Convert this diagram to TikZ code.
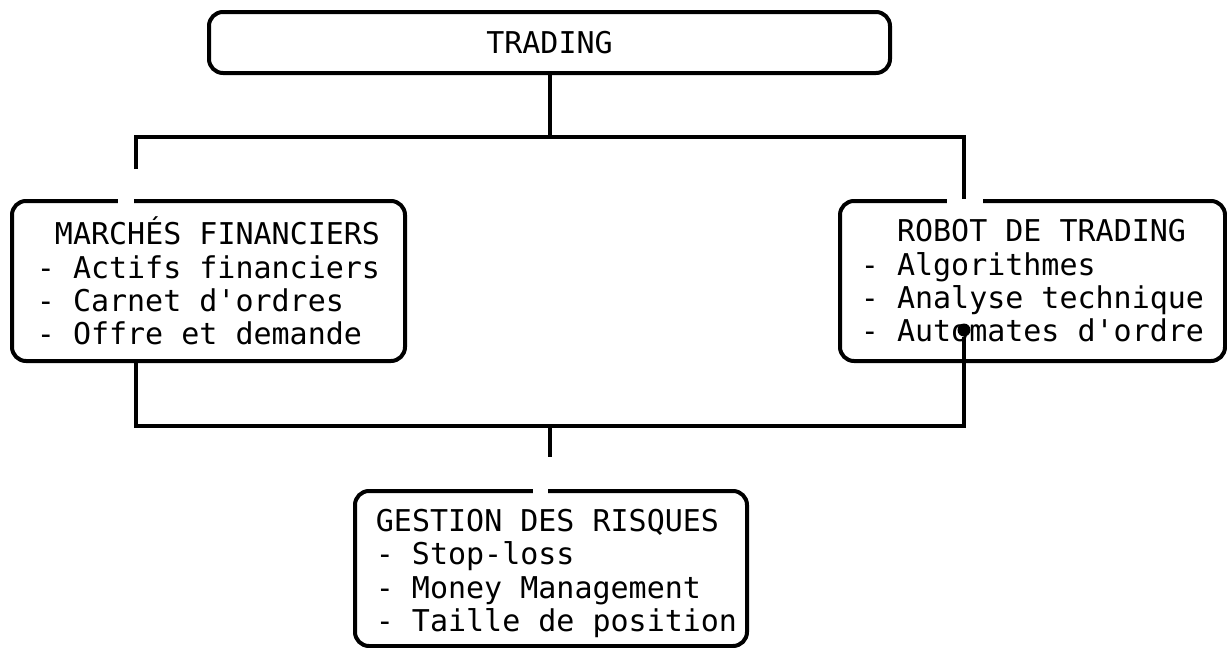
\documentclass[tikz,border=0pt]{standalone}
\usepackage{fontspec}
\setmonofont{DejaVu Sans Mono}
\newcommand\boxfont{\ttfamily\fontsize{30}{33.3}\selectfont}
\newcommand\monospaces{\spaceskip=18.06pt plus 0pt minus 0pt\xspaceskip=18.06pt plus 0pt minus 0pt\relax}
\begin{document}
\begin{tikzpicture}[x=1pt,y=-1pt,
    box/.style={draw,line width=4pt,rounded corners=14pt,inner sep=0pt,align=left,font=\boxfont,
        execute at begin node=\monospaces},
    wire/.style={line width=4pt},
    dot/.style={circle,fill=black,inner sep=0pt,minimum size=13pt}]
    \useasboundingbox (0,0) rectangle (1227,648);
    \node[box,align=center,minimum width=681pt,minimum height=61pt] (trading) at (549.5,42.5) {TRADING};
    \node[box,minimum width=393pt,minimum height=160pt] (marches) at (208.5,281)
        {\hphantom{X}MARCHÉS FINANCIERS\\- Actifs financiers\\- Carnet d'ordres\\- Offre et demande};
    \node[box,minimum width=385pt,minimum height=160pt] (robot) at (1032.5,281)
        {\hphantom{XX}ROBOT DE TRADING\\- Algorithmes\\- Analyse technique\\- Automates d'ordre};
    \node[box,minimum width=392pt,minimum height=155pt] (risques) at (551,568.5)
        {\rule{0pt}{32pt}GESTION DES RISQUES\\- Stop-loss\\- Money Management\\- Taille de position\hspace*{-11pt}};
    % breaks in the box tops
    \fill[white] (118,196) rectangle (134,206);
    \fill[white] (947,196) rectangle (983,206);
    \fill[white] (533,486) rectangle (548,496);
    % top bus
    \coordinate (busTopL) at (136,137);
    \coordinate (busTopR) at (964,137);
    \coordinate (stubL) at (136,169);
    \draw[wire] (trading) -- (trading |- busTopL);
    \draw[wire] (stubL) -- (busTopL) -- (busTopR) -- (busTopR |- robot.north);
    % bottom bus
    \coordinate (busBotL) at (136,426);
    \coordinate (busBotR) at (964,426);
    \coordinate (stubB) at (550,457);
    \node[dot] (robotDot) at (964,330) {};
    \draw[wire] (busBotL |- marches.south) -- (busBotL) -- (busBotR) -- (robotDot);
    \draw[wire] (stubB |- busBotL) -- (stubB);
\end{tikzpicture}
\end{document}
